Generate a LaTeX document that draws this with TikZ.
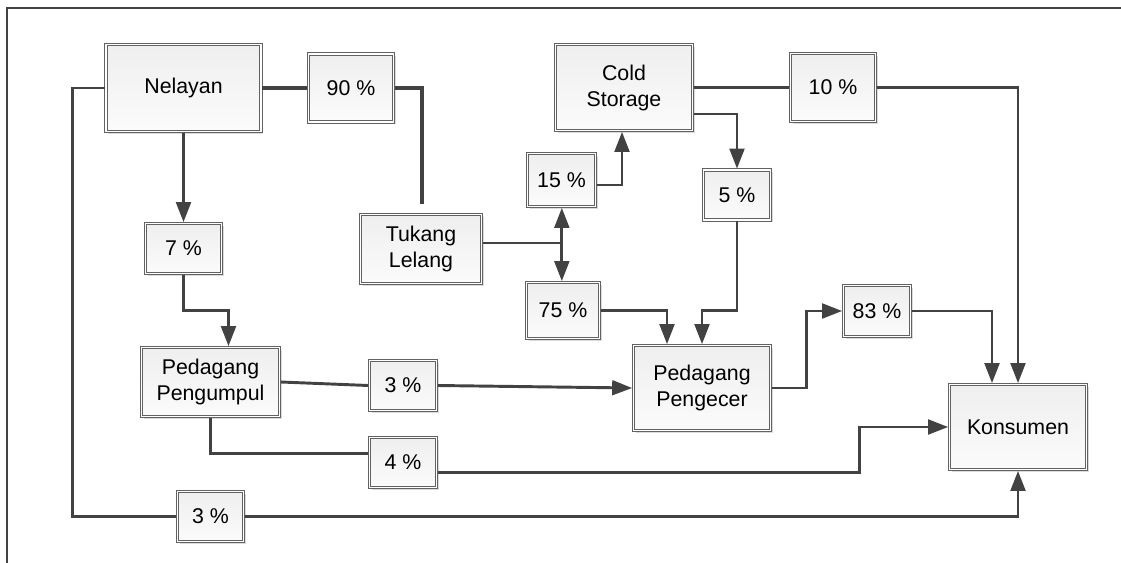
\documentclass[tikz,border=0pt]{standalone}
\usepackage{fontspec}
\setmainfont{Liberation Sans}
\usetikzlibrary{arrows.meta,calc,shadows}
\definecolor{ln}{HTML}{424242}
\definecolor{bd}{HTML}{626262}
\tikzset{
  box/.style={draw=bd, line width=0.5pt, double=white, double distance=1.4pt,
    top color=gray!13, bottom color=gray!3,
    drop shadow={shadow xshift=1.6pt, shadow yshift=-1.6pt, fill=gray!28, opacity=1},
    align=center, font=\fontsize{16}{19.5}\selectfont, inner sep=0pt, outer sep=1pt},
  sz/.style 2 args={minimum width=#1*0.75pt, minimum height=#2*0.75pt},
  conn/.style={draw=ln, line width=2.2pt, line join=miter},
  thickconn/.style={conn, line width=3pt},
  arr/.style={conn, -{Triangle[length=15pt,width=11pt]}},
}
\begin{document}
\begin{tikzpicture}[x=0.75pt,y=-0.75pt]
\useasboundingbox (0,0) rectangle (1121,563);
\draw[ln, line width=1pt] (7,563) -- (7,8) -- (1121,8);

\node[box, sz={155}{87}] (nel) at (183.5,88) {Nelayan};
\node[box, sz={85}{68}]  (p90) at (351,88) {90 \%};
\node[box, sz={137}{86}] (cs)  at (624,87.5) {Cold\\Storage};
\node[box, sz={85}{68}]  (p10) at (833,87.5) {10 \%};
\node[box, sz={68}{53}]  (p15) at (561.5,180) {15 \%};
\node[box, sz={67}{50}]  (p5)  at (737,195) {5 \%};
\node[box, sz={121}{69}] (tl)  at (421,249) {Tukang\\Lelang};
\node[box, sz={76}{50}]  (p7)  at (183.5,248.5) {7 \%};
\node[box, sz={73}{56}]  (p75) at (563,310.5) {75 \%};
\node[box, sz={138}{69}] (ppg) at (210.5,382) {Pedagang\\Pengumpul};
\node[box, sz={67}{50}]  (p3a) at (403,385.5) {3 \%};
\node[box, sz={137}{85}] (ppc) at (702,388) {Pedagang\\Pengecer};
\node[box, sz={67}{51}]  (p83) at (877,311) {83 \%};
\node[box, sz={67}{50}]  (p4)  at (403,462.5) {4 \%};
\node[box, sz={137}{85}] (kon) at (1018,427) {Konsumen};
\node[box, sz={66}{50}]  (p3b) at (210.5,516.5) {3 \%};

% Nelayan -> 90 % -> Tukang Lelang
\draw[thickconn] (nel.east) -- (p90.west);
\coordinate (e90) at ($(tl.north)+(1,-9)$);
\draw[thickconn] (p90.east) -| (e90);

% Nelayan -> 3 % -> Konsumen
\draw[conn] (nel.west) -- ++(-32,0) |- (p3b.west);
\draw[arr] (p3b.east) -| (kon.south);

% Nelayan -> 7 % -> Pedagang Pengumpul
\draw[arr] (nel.south) -- (p7.north);
\draw[arr] (p7.south) -- ++(0,36) -| ($(ppg.north)+(18,0)$);

% Pedagang Pengumpul -> 3 % -> Pedagang Pengecer
\draw[conn] (ppg.east) -- (p3a.west);
\draw[arr] (p3a.east) -- (ppc.west);

% Pedagang Pengumpul -> 4 % -> Konsumen
\draw[conn] (ppg.south) |- ($(p4.west)+(0,-9)$);
\draw[arr] ($(p4.east)+(0,10)$) -| ($(kon.west)+(-89,0)$) -- (kon.west);

% Tukang Lelang -> 15 % / 75 %
\coordinate (j) at ($(tl.east)+(79,-6)$);
\draw[conn] ($(tl.east)+(0,-6)$) -- (j);
\draw[arr] (j) -- (j |- p15.south);
\draw[arr] (j) -- (j |- p75.north);

% 15 % -> Cold Storage
\draw[arr] ($(p15.east)+(0,5)$) -| ($(cs.south)+(-2,0)$);

% Cold Storage -> 10 % -> Konsumen
\draw[conn] (cs.east) -- (p10.west);
\draw[arr] (p10.east) -| (kon.north);

% Cold Storage -> 5 % -> Pedagang Pengecer
\draw[arr] ($(cs.east)+(0,26.5)$) -| (p5.north);
\draw[arr] (p5.south) -- ++(0,89) -| (ppc.north);

% 75 % -> Pedagang Pengecer
\draw[arr] (p75.east) -| ($(ppc.north)+(-35,0)$);

% Pedagang Pengecer -> 83 % -> Konsumen
\draw[arr] (ppc.east) -- ++(35,0) |- (p83.west);
\draw[arr] (p83.east) -| ($(kon.north)+(-26,0)$);
\end{tikzpicture}
\end{document}
